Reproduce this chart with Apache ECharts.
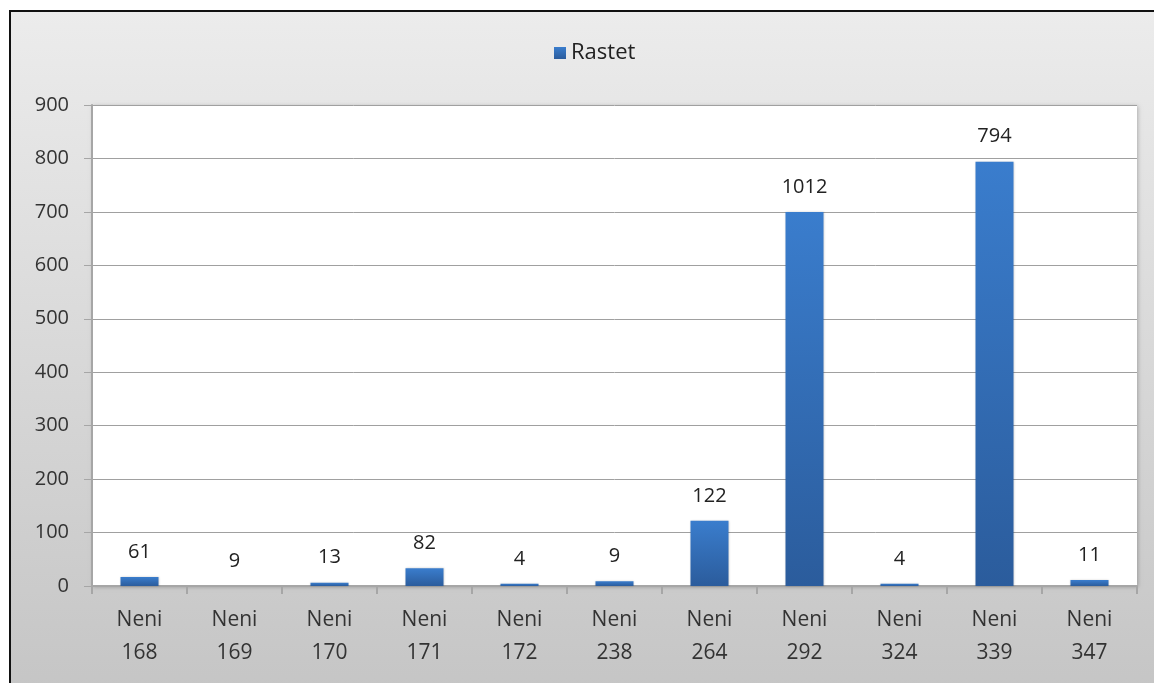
<!DOCTYPE html>
<html>
<head>
<meta charset="utf-8">
<script src="https://cdn.jsdelivr.net/npm/echarts@6/dist/echarts.min.js"></script>
<style>
  html, body { margin: 0; padding: 0; background: #fff; }
  #chart { width: 1154px; height: 683px; }
</style>
</head>
<body>
<div id="chart"></div>
<script>
// categories (two-line labels)
const categories = ['Neni\n168', 'Neni\n169', 'Neni\n170', 'Neni\n171', 'Neni\n172', 'Neni\n238',
  'Neni\n264', 'Neni\n292', 'Neni\n324', 'Neni\n339', 'Neni\n347'];
// bar heights as drawn on the axis
const barHeights = [17, 0, 6, 33, 4, 9, 122, 700, 4, 794, 11];
// data labels printed above each bar
const labelValues = [61, 9, 13, 82, 4, 9, 122, 1012, 4, 794, 11];
const yTicks = { min: 0, max: 900, interval: 100 };

const chart = echarts.init(document.getElementById('chart'), null, { renderer: 'canvas' });

const option = {
  backgroundColor: '#ffffff',
  animation: false,
  textStyle: { fontFamily: 'Open Sans, DejaVu Sans, sans-serif' },
  graphic: [{
    type: 'rect', z: -10, silent: true,
    shape: { x: 10, y: 11, width: 1170, height: 700 },
    style: {
      fill: new echarts.graphic.LinearGradient(0, 0, 0, 1, [
        { offset: 0, color: '#ececec' },
        { offset: 1, color: '#c4c4c4' }
      ]),
      stroke: '#111', lineWidth: 2
    }
  }],
  legend: {
    top: 37, left: 549,
    icon: 'rect',
    itemWidth: 12, itemHeight: 12, itemGap: 8,
    textStyle: { fontSize: 22, color: '#222' },
    data: ['Rastet']
  },
  grid: {
    left: 92, right: 17, top: 105, bottom: 97,
    show: true, backgroundColor: '#ffffff', borderWidth: 0,
    shadowColor: 'rgba(0,0,0,0.25)', shadowBlur: 4, shadowOffsetX: 1, shadowOffsetY: 1
  },
  xAxis: {
    type: 'category',
    data: categories,
    axisLine: { lineStyle: { color: '#a6a6a6', width: 2 } },
    axisTick: { show: true, length: 8, lineStyle: { color: '#a6a6a6', width: 2 } },
    axisLabel: { fontSize: 21, color: '#333', lineHeight: 33, margin: 18, interval: 0 }
  },
  yAxis: {
    type: 'value',
    min: yTicks.min, max: yTicks.max, interval: yTicks.interval,
    axisLine: { show: true, lineStyle: { color: '#a6a6a6', width: 2 } },
    axisTick: { show: true, length: 8, lineStyle: { color: '#a6a6a6' } },
    axisLabel: { fontSize: 20, color: '#333', margin: 23 },
    splitLine: { lineStyle: { color: '#a0a0a0', width: 1 } }
  },
  series: [{
    name: 'Rastet',
    type: 'bar',
    barWidth: '40%',
    data: barHeights,
    itemStyle: {
      color: new echarts.graphic.LinearGradient(0, 0, 0, 1, [
        { offset: 0, color: '#3a7dcd' },
        { offset: 1, color: '#2b5c9c' }
      ]),
      shadowColor: 'rgba(0,0,0,0.2)', shadowBlur: 2
    },
    label: {
      show: true, position: 'top', distance: 15,
      fontSize: 20, color: '#222',
      formatter: p => String(labelValues[p.dataIndex])
    }
  }]
};

chart.setOption(option);
</script>
</body>
</html>
